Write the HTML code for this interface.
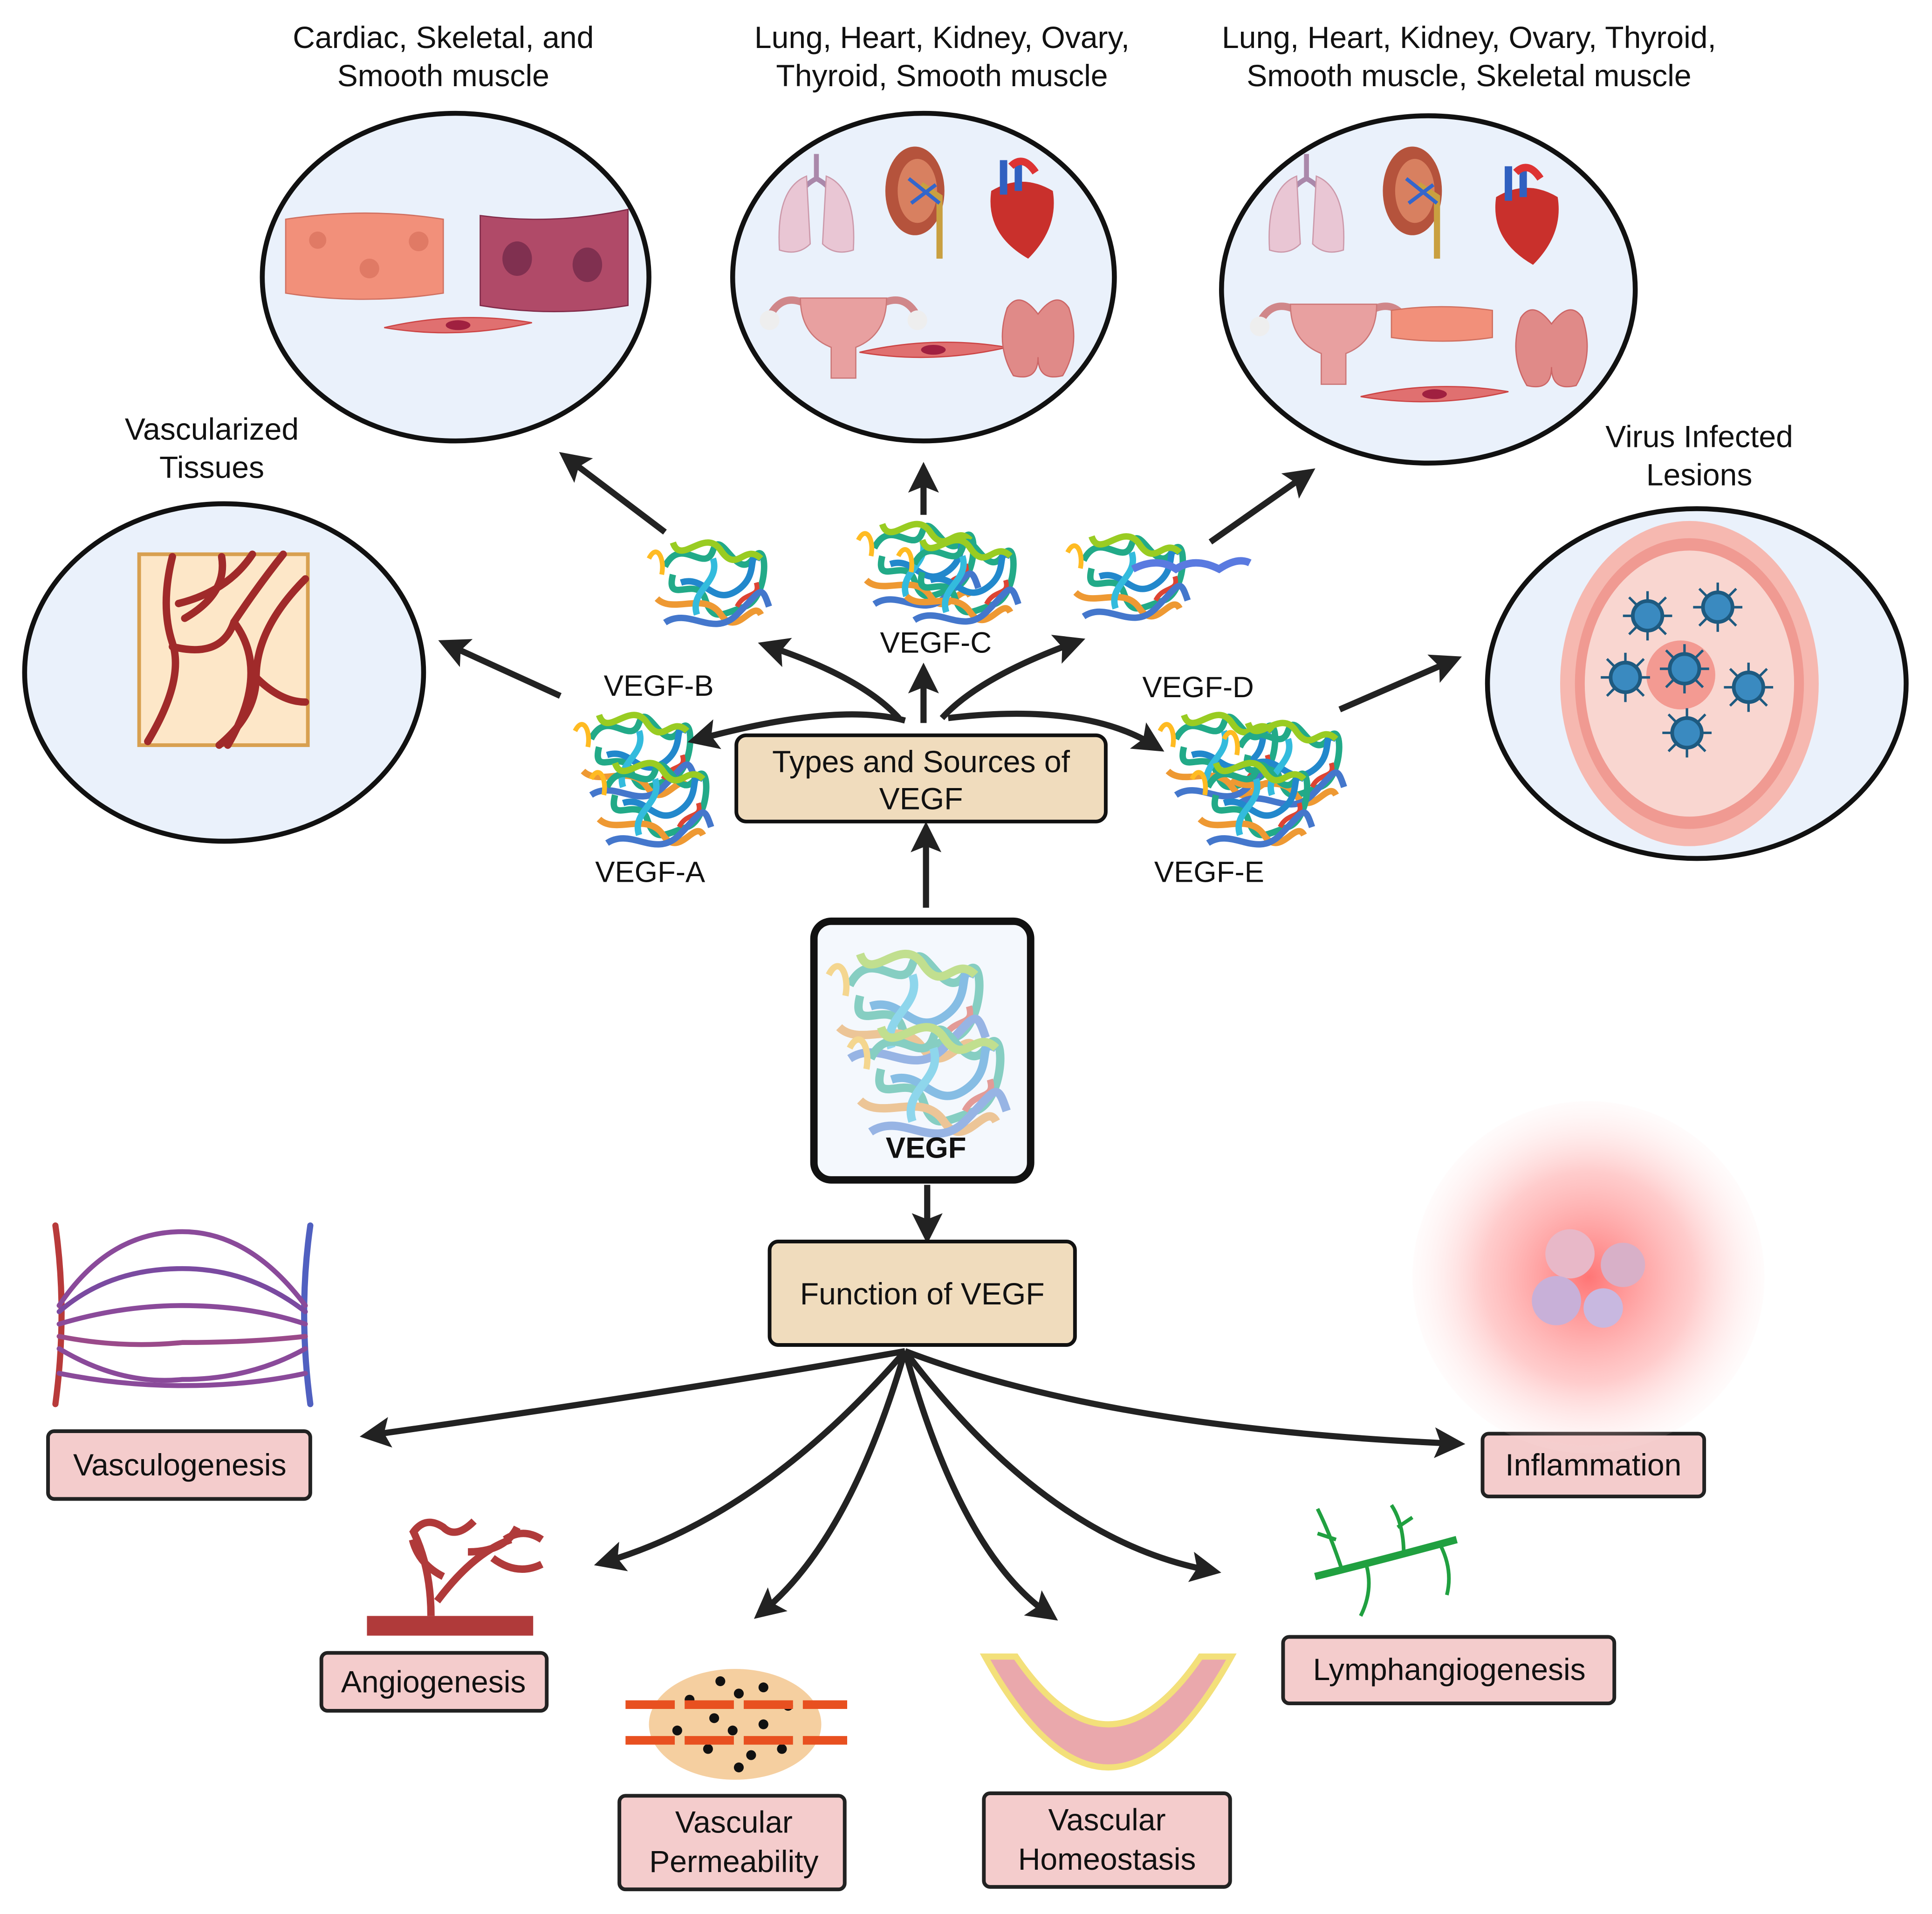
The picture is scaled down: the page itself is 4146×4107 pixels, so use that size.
<!DOCTYPE html>
<html><head><meta charset="utf-8"><style>
html,body{margin:0;padding:0;background:#fff;}
svg{display:block;}
text{font-family:"Liberation Sans",sans-serif;fill:#111;}
</style></head><body>
<svg width="4146" height="4107" viewBox="0 0 1569 1554" preserveAspectRatio="none" xmlns="http://www.w3.org/2000/svg">
<defs>
<marker id="ah" viewBox="0 0 10 10" refX="6" refY="5" markerWidth="5" markerHeight="5" orient="auto-start-reverse" markerUnits="strokeWidth">
<path d="M0,0 L10,5 L0,10 L2,5 z" fill="#222"/></marker>
<radialGradient id="inf" cx="50%" cy="50%" r="50%">
<stop offset="0" stop-color="#f66" stop-opacity="0.9"/><stop offset="0.6" stop-color="#f99" stop-opacity="0.5"/><stop offset="1" stop-color="#fdd" stop-opacity="0.1"/></radialGradient>
<g id="prot">
<path d="M0,0 c10,-20 25,5 30,-10 s15,20 25,5 s10,25 -5,30 s-20,10 -25,-5 s-25,5 -20,-15" fill="none" stroke="#2a8" stroke-width="4"/>
<path d="M10,10 c15,-5 20,15 35,5 s5,-25 15,-20" fill="none" stroke="#28c" stroke-width="4"/>
<path d="M-5,20 c10,10 30,-5 40,10 s20,-10 25,0" fill="none" stroke="#e93" stroke-width="4"/>
<path d="M5,-15 c5,15 20,-10 30,5 s15,-5 25,5" fill="none" stroke="#9c2" stroke-width="4"/>
<path d="M20,30 c-5,-15 15,-20 10,-35" fill="none" stroke="#3bd" stroke-width="4"/>
<path d="M45,25 c5,-10 15,-5 12,-15" fill="none" stroke="#d43" stroke-width="3"/>
<path d="M-10,-5 c5,-10 10,0 8,10" fill="none" stroke="#fb2" stroke-width="3"/>
<path d="M0,35 c15,-10 30,10 45,-5 s15,-20 20,-5" fill="none" stroke="#47c" stroke-width="4"/>
</g>
<g id="virus"><circle r="12" fill="#3a8ac0" stroke="#1e5a80" stroke-width="3"/>
<g stroke="#1e5a80" stroke-width="2"><line x1="0" y1="-12" x2="0" y2="-20"/><line x1="0" y1="12" x2="0" y2="20"/><line x1="-12" y1="0" x2="-20" y2="0"/><line x1="12" y1="0" x2="20" y2="0"/><line x1="9" y1="9" x2="15" y2="15"/><line x1="-9" y1="-9" x2="-15" y2="-15"/><line x1="9" y1="-9" x2="15" y2="-15"/><line x1="-9" y1="9" x2="-15" y2="15"/></g></g>
<g id="lung"><path d="M28,0 v20 M28,20 q-10,5 -15,15 M28,20 q10,5 15,15" stroke="#a8a" stroke-width="4" fill="none"/>
<path d="M20,18 q-25,10 -22,60 q15,5 25,-5 z" fill="#e9c6d4" stroke="#c9a"/><path d="M36,18 q25,10 22,60 q-15,5 -25,-5 z" fill="#e9c6d4" stroke="#c9a"/></g>
<g id="kid"><ellipse cx="25" cy="35" rx="24" ry="36" fill="#b5533c"/><ellipse cx="27" cy="35" rx="16" ry="26" fill="#d88060"/><path d="M30,30 l15,10 v50" stroke="#c9a040" stroke-width="5" fill="none"/><path d="M20,25 l25,20 M22,45 l20,-15" stroke="#36c" stroke-width="3"/></g>
<g id="heart"><path d="M10,25 q-5,35 30,55 q25,-25 20,-55 q-25,-15 -50,0z" fill="#c9302c"/><path d="M20,0 v28 M32,0 v25" stroke="#3060c0" stroke-width="6"/><path d="M26,5 q10,-10 20,5" stroke="#d33" stroke-width="6" fill="none"/></g>
<g id="ovary"><path d="M25,15 q-20,-10 -30,10 M85,15 q20,-10 30,10" stroke="#d0878a" stroke-width="6" fill="none"/><circle cx="-5" cy="28" r="8" fill="#eee"/><circle cx="115" cy="28" r="8" fill="#eee"/><path d="M20,10 h70 q0,30 -25,40 v25 h-20 v-25 q-25,-10 -25,-40z" fill="#e8a0a0" stroke="#c77"/></g>
<g id="thy"><path d="M0,10 q10,-15 25,5 q15,-20 25,-5 q10,30 -5,55 q-20,5 -20,-15 q0,20 -20,15 q-15,-25 -5,-55z" fill="#e08a88" stroke="#c66"/></g>
<g id="spin"><path d="M0,0 q60,-14 120,-4 q-60,14 -120,4z" fill="#e07070" stroke="#c44"/><ellipse cx="60" cy="-2" rx="10" ry="4" fill="#a02040"/></g>
</defs>

<g font-size="25" text-anchor="middle">
<text x="360" y="39">Cardiac, Skeletal, and</text><text x="360" y="70">Smooth muscle</text>
<text x="765" y="39">Lung, Heart, Kidney, Ovary,</text><text x="765" y="70">Thyroid, Smooth muscle</text>
<text x="1193" y="39">Lung, Heart, Kidney, Ovary, Thyroid,</text><text x="1193" y="70">Smooth muscle, Skeletal muscle</text>
<text x="172" y="357">Vascularized</text><text x="172" y="388">Tissues</text>
<text x="1380" y="363">Virus Infected</text><text x="1380" y="394">Lesions</text>
</g>

<g fill="#eaf1fb" stroke="#111" stroke-width="4">
<ellipse cx="370" cy="225" rx="157" ry="133"/>
<ellipse cx="750" cy="225" rx="155" ry="133"/>
<ellipse cx="1160" cy="235" rx="168" ry="141"/>
<ellipse cx="182" cy="546" rx="162" ry="137"/>
<ellipse cx="1378" cy="555" rx="170" ry="142"/>
</g>
<path d="M232,178 q65,-10 128,0 v60 q-65,10 -128,0z" fill="#f2907a" stroke="#d07060"/>
<circle cx="258" cy="195" r="7" fill="#e07a65"/><circle cx="300" cy="218" r="8" fill="#e07a65"/><circle cx="340" cy="196" r="8" fill="#e07a65"/>
<path d="M390,175 q60,8 120,-5 v78 q-60,10 -120,0z" fill="#b04a68" stroke="#802a48"/>
<ellipse cx="420" cy="210" rx="12" ry="14" fill="#803050"/><ellipse cx="477" cy="215" rx="12" ry="14" fill="#803050"/>
<use href="#spin" x="312" y="266"/>
<use href="#lung" x="635" y="125"/><use href="#kid" x="718" y="120"/><use href="#heart" x="795" y="130"/>
<use href="#ovary" x="630" y="232"/><use href="#spin" x="698" y="286"/><use href="#thy" x="818" y="240"/>
<use href="#lung" x="1033" y="125"/><use href="#kid" x="1122" y="120"/><use href="#heart" x="1205" y="135"/>
<use href="#ovary" x="1028" y="237"/><path d="M1130,252 q40,-6 82,0 v22 q-40,6 -82,0z" fill="#f2907a" stroke="#d07060"/><use href="#thy" x="1235" y="248"/><use href="#spin" x="1105" y="322"/>
<rect x="113" y="450" width="137" height="155" fill="#fde7c8" stroke="#d8a050" stroke-width="3"/>
<g stroke="#a02a2a" stroke-width="6" fill="none" stroke-linecap="round">
<path d="M140,452 q-10,40 0,70 q10,30 -20,80"/><path d="M145,490 q40,-10 60,-40"/><path d="M140,525 q40,10 50,-20 q20,-30 40,-55"/>
<path d="M248,470 q-40,40 -40,80 q0,30 -30,55"/><path d="M208,550 q20,20 40,20"/><path d="M180,452 q5,30 -30,50"/><path d="M190,505 q30,40 -5,100"/></g>
<ellipse cx="1372" cy="555" rx="105" ry="132" fill="#f6b8b0"/>
<ellipse cx="1372" cy="555" rx="93" ry="118" fill="#f09a92"/>
<ellipse cx="1372" cy="555" rx="85" ry="108" fill="#f9d6d0"/>
<circle cx="1365" cy="548" r="28" fill="#f39a92"/>
<use href="#virus" x="1338" y="500"/><use href="#virus" x="1395" y="493"/><use href="#virus" x="1320" y="550"/><use href="#virus" x="1368" y="543"/><use href="#virus" x="1420" y="558"/><use href="#virus" x="1370" y="595"/>

<g transform="translate(540,460) scale(1.3)"><use href="#prot"/></g>
<g transform="translate(710,445) scale(1.3)"><use href="#prot"/><use href="#prot" x="25" y="10"/></g>
<g transform="translate(880,455) scale(1.3)"><use href="#prot"/></g>
<g transform="translate(480,600) scale(1.3)"><use href="#prot"/><use href="#prot" x="10" y="30"/></g>
<g transform="translate(955,600) scale(1.3)"><use href="#prot"/><use href="#prot" x="40" y="5"/><use href="#prot" x="20" y="30"/></g>
<g transform="translate(690,800) scale(1.7)"><use href="#prot"/><use href="#prot" x="10" y="35"/></g>
<path d="M920,462 q20,-10 35,0 q15,-10 35,0 q15,-10 25,-5" stroke="#5a7ae0" stroke-width="6" fill="none"/>

<g font-size="24" text-anchor="middle">
<text x="535" y="565">VEGF-B</text><text x="760" y="530">VEGF-C</text><text x="973" y="566">VEGF-D</text>
<text x="528" y="716">VEGF-A</text><text x="982" y="716">VEGF-E</text></g>

<g stroke="#222" stroke-width="5" fill="none" marker-end="url(#ah)">
<path d="M540,432 L462,373"/><path d="M750,418 L750,385"/><path d="M983,440 L1060,386"/>
<path d="M455,565 L365,524"/><path d="M1088,576 L1178,537"/>
<path d="M735,585 Q680,570 568,600"/><path d="M730,583 Q700,550 625,525"/><path d="M750,587 L750,548"/>
<path d="M765,583 Q795,550 872,522"/><path d="M770,583 Q880,570 937,605"/>
<path d="M752,737 L752,677"/><path d="M753,962 L753,1000"/>
<path d="M735,1097 Q550,1130 302,1165"/><path d="M735,1097 Q620,1230 492,1268"/><path d="M735,1097 Q690,1250 620,1308"/>
<path d="M735,1097 Q780,1260 851,1310"/><path d="M735,1097 Q850,1250 982,1275"/><path d="M735,1097 Q900,1160 1180,1172"/>
</g>

<rect x="598" y="597" width="300" height="70" rx="8" fill="#f0dcbd" stroke="#111" stroke-width="3"/>
<text x="748" y="627" font-size="25" text-anchor="middle">Types and Sources of</text><text x="748" y="657" font-size="25" text-anchor="middle">VEGF</text>
<rect x="661" y="748" width="176" height="210" rx="14" fill="#eaf1fb" fill-opacity="0.5" stroke="#111" stroke-width="6"/>
<text x="752" y="940" font-size="24" font-weight="bold" text-anchor="middle">VEGF</text>
<rect x="625" y="1008" width="248" height="84" rx="7" fill="#f0dcbd" stroke="#111" stroke-width="3"/>
<text x="749" y="1059" font-size="25" text-anchor="middle">Function of VEGF</text>

<g fill="#f4cccc" stroke="#222" stroke-width="3">
<rect x="39" y="1162" width="213" height="55" rx="5"/><rect x="1204" y="1164" width="180" height="51" rx="5"/>
<rect x="261" y="1342" width="183" height="47" rx="5"/><rect x="503" y="1458" width="183" height="76" rx="5"/>
<rect x="799" y="1456" width="200" height="76" rx="5"/><rect x="1042" y="1329" width="269" height="54" rx="5"/>
</g>
<g font-size="25" text-anchor="middle">
<text x="146" y="1198">Vasculogenesis</text><text x="1294" y="1198">Inflammation</text>
<text x="352" y="1374">Angiogenesis</text><text x="596" y="1488">Vascular</text><text x="596" y="1520">Permeability</text>
<text x="899" y="1486">Vascular</text><text x="899" y="1518">Homeostasis</text><text x="1177" y="1364">Lymphangiogenesis</text></g>

<g fill="none" stroke-width="5" stroke-linecap="round">
<path d="M45,995 q10,70 0,145" stroke="#b83a3a"/><path d="M252,995 q-10,70 0,145" stroke="#5060c0"/>
<path d="M48,1060 q40,-60 100,-60 q55,0 100,60" stroke="#8a4a9a" stroke-width="4"/>
<path d="M48,1065 q40,-35 100,-35 q55,0 100,35" stroke="#7a4aa0" stroke-width="4"/>
<path d="M48,1075 q50,-15 100,-15 q55,0 100,15" stroke="#8a4a9a" stroke-width="4"/>
<path d="M48,1085 q50,10 100,5 q55,0 100,-5" stroke="#9a4a8a" stroke-width="4"/>
<path d="M48,1095 q50,30 100,25 q55,0 100,-25" stroke="#8a4a9a" stroke-width="4"/>
<path d="M48,1115 q50,10 100,10 q55,0 100,-10" stroke="#8a4a9a" stroke-width="4"/>
</g>
<circle cx="1290" cy="1037" r="143" fill="url(#inf)"/>
<circle cx="1275" cy="1018" r="20" fill="#e8b8c8"/><circle cx="1318" cy="1027" r="18" fill="#d8b0c8"/><circle cx="1264" cy="1056" r="20" fill="#c8b0d8"/><circle cx="1302" cy="1062" r="16" fill="#c8b8e0"/>
<rect x="298" y="1312" width="135" height="16" fill="#b03a3a"/>
<path d="M350,1312 q0,-40 -15,-70 M355,1300 q30,-40 60,-50 M360,1280 q-20,-10 -25,-30 M380,1260 q30,0 40,-20 M400,1265 q20,15 40,5 M335,1245 q10,-15 25,-5 q10,10 25,-5 M410,1250 q15,-10 30,0" stroke="#b03a3a" stroke-width="6" fill="none"/>
<ellipse cx="597" cy="1400" rx="70" ry="45" fill="#f5cfa0"/>
<g fill="#111"><circle cx="560" cy="1380" r="4"/><circle cx="580" cy="1395" r="4"/><circle cx="600" cy="1375" r="4"/><circle cx="620" cy="1400" r="4"/><circle cx="640" cy="1385" r="4"/><circle cx="575" cy="1420" r="4"/><circle cx="610" cy="1425" r="4"/><circle cx="635" cy="1420" r="4"/><circle cx="550" cy="1405" r="4"/><circle cx="595" cy="1405" r="4"/><circle cx="585" cy="1365" r="4"/><circle cx="620" cy="1370" r="4"/><circle cx="600" cy="1435" r="4"/></g>
<path d="M508,1384 h180 M508,1413 h180" stroke="#e85020" stroke-width="7" stroke-dasharray="40,8"/>
<path d="M800,1345 q100,180 200,0 h-25 q-75,110 -150,0z" fill="#eaa8ac" stroke="#f3e07a" stroke-width="5"/>
<g stroke="#20a040" stroke-width="3" fill="none"><path d="M1068,1280 q60,-15 115,-30" stroke-width="6"/><path d="M1090,1275 q-10,-30 -20,-50 M1085,1250 l-15,-5 M1140,1262 q0,-25 -10,-40 M1135,1240 l12,-8 M1170,1255 q10,20 5,40 M1110,1272 q5,20 -5,40"/></g>
</svg>
</body></html>
